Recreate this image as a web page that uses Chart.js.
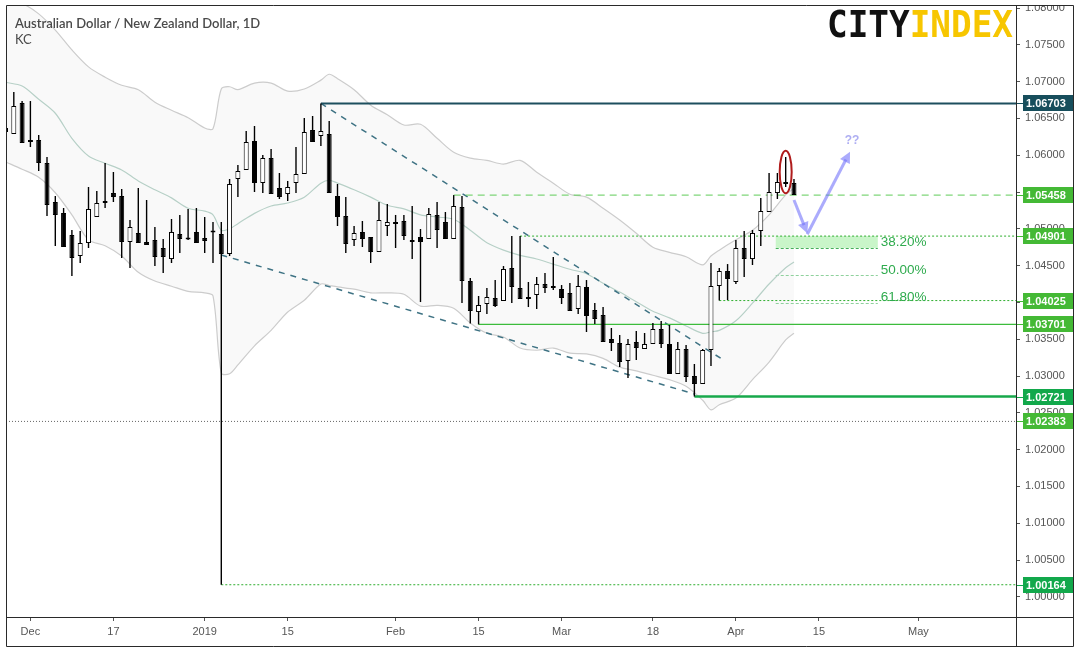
<!DOCTYPE html>
<html>
<head>
<meta charset="utf-8">
<script src="https://cdn.jsdelivr.net/npm/chart.js@4.4.1/dist/chart.umd.min.js"></script>
<style>
  html, body { margin: 0; padding: 0; background: #fff; }
</style>
</head>
<body>
<canvas id="chart" width="1080" height="652"></canvas>
<script>
// AUD/NZD daily, one entry per trading day (index 0 = 28 Nov 2018)
const opens = [
  1.06369, 1.06288, 1.06709, 1.06200, 1.06207, 1.05894, 1.05364, 1.05215, 1.04916, 1.04630,
  1.04807, 1.05160, 1.05351, 1.05486, 1.05446, 1.04821, 1.04943, 1.04821, 1.04848, 1.04739,
  1.04589, 1.04929, 1.04875, 1.04957, 1.04875, 1.04963, 1.04929, 1.04658, 1.05677, 1.05799,
  1.06193, 1.05622, 1.05962, 1.05554, 1.05473, 1.05622, 1.05745, 1.06342, 1.06261, 1.06288,
  1.05446, 1.05174, 1.04848, 1.04957, 1.04889, 1.04685, 1.05038, 1.05092, 1.05106, 1.04821,
  1.04889, 1.04861, 1.05188, 1.05092, 1.04861, 1.05296, 1.04291, 1.03869, 1.03978, 1.04060,
  1.04019, 1.04467, 1.04196, 1.04046, 1.04101, 1.04250, 1.04196, 1.04182, 1.04128, 1.03910,
  1.04209, 1.03897, 1.03829, 1.03503, 1.03449, 1.03204, 1.03462, 1.03367, 1.03435, 1.03638,
  1.03435, 1.03027, 1.03367, 1.03000, 1.02891, 1.03353, 1.04223, 1.04426, 1.04277, 1.04739,
  1.04589, 1.04970, 1.05228, 1.05486, 1.05636, 1.05622
];
const highs = [
  1.06478, 1.06859, 1.06736, 1.06736, 1.06275, 1.05976, 1.05446, 1.05283, 1.04984, 1.04970,
  1.05568, 1.05514, 1.05894, 1.05772, 1.05541, 1.05120, 1.05554, 1.05391, 1.05024, 1.04861,
  1.05133, 1.05188, 1.05269, 1.05283, 1.05160, 1.05092, 1.05092, 1.05677, 1.05867, 1.06329,
  1.06397, 1.06003, 1.06084, 1.05758, 1.05650, 1.06111, 1.06505, 1.06533, 1.06703, 1.06465,
  1.05609, 1.05432, 1.05038, 1.05106, 1.04889, 1.05364, 1.05337, 1.05188, 1.05188, 1.05310,
  1.04997, 1.05283, 1.05364, 1.05228, 1.05458, 1.05445, 1.04331, 1.04087, 1.04196, 1.04304,
  1.04494, 1.04902, 1.04901, 1.04277, 1.04345, 1.04399, 1.04617, 1.04236, 1.04263, 1.04372,
  1.04304, 1.03992, 1.03937, 1.03652, 1.03557, 1.03503, 1.03611, 1.03584, 1.03720, 1.03747,
  1.03693, 1.03462, 1.03421, 1.03163, 1.03367, 1.04535, 1.04467, 1.04521, 1.04848, 1.04970,
  1.04984, 1.05418, 1.05758, 1.05758, 1.05976, 1.05677
];
const lows = [
  1.06207, 1.06288, 1.06166, 1.06111, 1.05785, 1.05174, 1.04766, 1.04753, 1.04359, 1.04535,
  1.04739, 1.05160, 1.05283, 1.05364, 1.04603, 1.04467, 1.04807, 1.04780, 1.04494, 1.04399,
  1.04535, 1.04671, 1.04848, 1.04807, 1.04671, 1.04535, 1.00164, 1.04630, 1.05432, 1.05799,
  1.05500, 1.05486, 1.05473, 1.05405, 1.05378, 1.05486, 1.05745, 1.06179, 1.06125, 1.05486,
  1.05038, 1.04671, 1.04766, 1.04753, 1.04535, 1.04685, 1.04902, 1.04739, 1.04848, 1.04589,
  1.04005, 1.04861, 1.04739, 1.04861, 1.04861, 1.03992, 1.03715, 1.03701, 1.03842, 1.03937,
  1.04019, 1.03992, 1.04046, 1.03937, 1.03910, 1.04128, 1.04168, 1.03978, 1.03883, 1.03842,
  1.03598, 1.03706, 1.03462, 1.03340, 1.03122, 1.02973, 1.03217, 1.03367, 1.03435, 1.03380,
  1.03027, 1.03027, 1.02918, 1.02721, 1.02891, 1.03136, 1.04025, 1.04033, 1.04250, 1.04345,
  1.04508, 1.04766, 1.05228, 1.05405, 1.05568, 1.05459
];
const closes = [
  1.06315, 1.06668, 1.06166, 1.06179, 1.05894, 1.05323, 1.05188, 1.04753, 1.04603, 1.04807,
  1.05269, 1.05351, 1.05378, 1.05432, 1.04821, 1.05024, 1.04807, 1.04780, 1.04617, 1.04617,
  1.04957, 1.04861, 1.04855, 1.04807, 1.04834, 1.04950, 1.04658, 1.05609, 1.05785, 1.06179,
  1.05622, 1.05962, 1.05473, 1.05432, 1.05568, 1.05745, 1.06315, 1.06179, 1.06329, 1.05486,
  1.05160, 1.04793, 1.04943, 1.04861, 1.04685, 1.05120, 1.05092, 1.05065, 1.04902, 1.04848,
  1.04821, 1.05201, 1.04984, 1.04861, 1.05310, 1.04291, 1.03883, 1.03965, 1.04073, 1.03951,
  1.04454, 1.04209, 1.04046, 1.04073, 1.04250, 1.04196, 1.04223, 1.04060, 1.03883, 1.04223,
  1.03815, 1.03774, 1.03462, 1.03449, 1.03190, 1.03435, 1.03380, 1.03435, 1.03638, 1.03435,
  1.03027, 1.03367, 1.02986, 1.02891, 1.03353, 1.04223, 1.04426, 1.04318, 1.04739, 1.04589,
  1.04943, 1.05242, 1.05500, 1.05636, 1.05609, 1.05459
];

// Keltner channel, read at these bar indices
const kcIdx = [0, 2, 4, 6, 8, 10, 12, 14, 16, 18, 20, 22, 24, 25, 26, 27, 28, 30, 32, 34, 36, 38, 39, 40,
  42, 44, 46, 48, 50, 52, 54, 56, 58, 60, 62, 64, 66, 68, 70, 72, 74, 76, 78, 80, 82, 84, 85, 86, 88, 90, 92, 94, 95];
const kcUpper = [1.0810, 1.0806, 1.0792, 1.0770, 1.0743, 1.0720, 1.0706, 1.0695, 1.0689, 1.0672, 1.0661, 1.0651,
  1.0637, 1.0636, 1.0690, 1.0693, 1.0689, 1.0698, 1.0698, 1.0687, 1.0690, 1.0702, 1.0710, 1.0704,
  1.0689, 1.0668, 1.0655, 1.0641, 1.0642, 1.0623, 1.0604, 1.0596, 1.0593, 1.0588, 1.0593, 1.0577, 1.0562,
  1.0547, 1.0543, 1.0528, 1.0512, 1.0494, 1.0475, 1.0468, 1.0462, 1.0451, 1.0463, 1.0471, 1.0485, 1.0498,
  1.0519, 1.0546, 1.0555];
const kcMid = [1.0699, 1.0694, 1.0676, 1.0657, 1.0623, 1.0599, 1.0589, 1.0580, 1.0565, 1.0553, 1.0542, 1.0528,
  1.0524, 1.0519, 1.0498, 1.0500, 1.0507, 1.0521, 1.0531, 1.0535, 1.0543, 1.0562, 1.0566, 1.0562,
  1.0553, 1.0543, 1.0532, 1.0527, 1.0519, 1.0516, 1.0513, 1.0498, 1.0481, 1.0471, 1.0464, 1.0459, 1.0452,
  1.0445, 1.0439, 1.0426, 1.0414, 1.0401, 1.0388, 1.0379, 1.0368, 1.0358, 1.0360, 1.0362, 1.0375, 1.0399,
  1.0425, 1.0447, 1.0455];
const kcLower = [1.0591, 1.0581, 1.0570, 1.0549, 1.0519, 1.0485, 1.0477, 1.0463, 1.0441, 1.0429, 1.0422, 1.0415,
  1.0413, 1.0409, 1.0304, 1.0303, 1.0315, 1.0341, 1.0362, 1.0387, 1.0403, 1.0425, 1.0423, 1.0421,
  1.0418, 1.0413, 1.0413, 1.0411, 1.0395, 1.0396, 1.0392, 1.0372, 1.0358, 1.0353, 1.0338, 1.0335, 1.0338,
  1.0331, 1.0330, 1.0324, 1.0312, 1.0307, 1.0301, 1.0295, 1.0286, 1.0267, 1.0254, 1.0261, 1.0270, 1.0295,
  1.0319, 1.0349, 1.0358];

// horizontal levels: value and the bar where each one starts
const levelValues = [1.06703, 1.05458, 1.04901, 1.04025, 1.03701, 1.02721, 1.02383, 1.00164];
const levelStarts = [38, 54, 62, 86, 57, 83, 0, 26];

// trend lines
const trendUpperX = [38, 86.5];
const trendUpperY = [1.06703, 1.03217];
const trendLowerX = [26, 83];
const trendLowerY = [1.04644, 1.02755];

// fibonacci retracement
const fibX = [92.8, 105.1];
const fibTop = 1.04901;
const fibLevels = [1.04740, 1.04372, 1.03996];
const fibLabels = ['38.20%', '50.00%', '61.80%'];

// projected path and marked candle
const pathX = [95.0, 96.6, 101.75];
const pathY = [1.05391, 1.04939, 1.06048];
const markX = 94;
const markY = [1.06061, 1.05482];
const questionX = 102;
const questionY = 1.06193;

// axes
const xTickPos = [3, 13, 24, 34, 47, 57, 67, 78, 88, 98, 110];
const xTickLabels = ['Dec', '17', '2019', '15', 'Feb', '15', 'Mar', '18', 'Apr', '15', 'May'];
const yTicks = [1.000, 1.005, 1.010, 1.015, 1.020, 1.025, 1.030, 1.035, 1.040, 1.045, 1.050, 1.055,
  1.060, 1.065, 1.070, 1.075, 1.080];

const X_MIN = 0.06;
const X_MAX = 121.75;
const FONT = "'Liberation Sans', Arial, sans-serif";

const levelStyles = [
  { color: '#1d4f5e', width: 2, dash: [] },
  { color: '#5ecb58', width: 1, dash: [7, 5] },
  { color: '#2fae2f', width: 1, dash: [2, 2] },
  { color: '#2fae2f', width: 1, dash: [2, 2] },
  { color: '#3cbc3c', width: 1.3, dash: [] },
  { color: '#17a84b', width: 2.5, dash: [] },
  { color: '#666666', width: 1, dash: [1, 2] },
  { color: '#2fae2f', width: 1, dash: [2, 2] }
];
const tagColors = ['#174e5c', '#44b935', '#44b935', '#44b935', '#44b935', '#12a84b', '#44b935', '#12a84b'];

const levelSets = levelValues.map((v, k) => ({
  type: 'line',
  data: [{ x: Math.max(levelStarts[k], X_MIN), y: v }, { x: X_MAX, y: v }],
  borderColor: levelStyles[k].color,
  borderWidth: levelStyles[k].width,
  borderDash: levelStyles[k].dash,
  pointRadius: 0,
  order: 3
}));

function trendSet(xs, ys) {
  return {
    type: 'line',
    data: xs.map((x, k) => ({ x: x, y: ys[k] })),
    borderColor: '#3f7384',
    borderWidth: 1.5,
    borderDash: [6, 6],
    pointRadius: 0,
    order: 4
  };
}

function kcSet(vals, color, fill, order) {
  return {
    type: 'line',
    data: kcIdx.map((x, k) => ({ x: x, y: vals[k] })),
    borderColor: color,
    borderWidth: 1.2,
    pointRadius: 0,
    tension: 0.3,
    fill: fill,
    backgroundColor: 'rgba(0,0,0,0.025)',
    order: order
  };
}

function arrow(ctx, x1, y1, x2, y2) {
  const a = Math.atan2(y2 - y1, x2 - x1);
  const len = 11, half = 5.5;
  ctx.beginPath();
  ctx.moveTo(x1, y1);
  ctx.lineTo(x2 - Math.cos(a) * len * 0.8, y2 - Math.sin(a) * len * 0.8);
  ctx.stroke();
  ctx.beginPath();
  ctx.moveTo(x2, y2);
  ctx.lineTo(x2 - Math.cos(a) * len + Math.sin(a) * half, y2 - Math.sin(a) * len - Math.cos(a) * half);
  ctx.lineTo(x2 - Math.cos(a) * len - Math.sin(a) * half, y2 - Math.sin(a) * len + Math.cos(a) * half);
  ctx.closePath();
  ctx.fill();
}

const decor = {
  id: 'decor',
  beforeDatasetsDraw(chart) {
    const ctx = chart.ctx, xs = chart.scales.x, ys = chart.scales.y;
    const x1 = xs.getPixelForValue(fibX[0]), x2 = xs.getPixelForValue(fibX[1]);
    ctx.save();
    ctx.fillStyle = '#c9f5c9';
    const yt = ys.getPixelForValue(fibTop), yb = ys.getPixelForValue(fibLevels[0]);
    ctx.fillRect(x1, yt, x2 - x1, yb - yt);
    fibLevels.forEach((v, k) => {
      const y = Math.round(ys.getPixelForValue(v)) + 0.5;
      ctx.strokeStyle = k === 0 ? '#45b05a' : '#8fd19d';
      ctx.setLineDash([3, 2]);
      ctx.lineWidth = 1;
      ctx.beginPath();
      ctx.moveTo(x1, y);
      ctx.lineTo(x2, y);
      ctx.stroke();
    });
    ctx.restore();
  },
  afterDatasetsDraw(chart) {
    const ctx = chart.ctx, xs = chart.scales.x, ys = chart.scales.y;
    ctx.save();
    // fib labels
    ctx.font = '13.5px ' + FONT;
    ctx.fillStyle = '#2fab4e';
    ctx.textBaseline = 'alphabetic';
    fibLabels.forEach((t, k) => {
      ctx.fillText(t, xs.getPixelForValue(fibX[1]) + 3, ys.getPixelForValue(fibLevels[k]) - 1.5);
    });
    // projected path
    ctx.strokeStyle = 'rgba(115,115,250,0.6)';
    ctx.fillStyle = 'rgba(115,115,250,0.6)';
    ctx.lineWidth = 3;
    const px = pathX.map(v => xs.getPixelForValue(v));
    const py = pathY.map(v => ys.getPixelForValue(v));
    arrow(ctx, px[0], py[0], px[1], py[1]);
    arrow(ctx, px[1], py[1] + 1, px[2], py[2]);
    ctx.font = 'bold 12px ' + FONT;
    ctx.fillStyle = '#aeaef2';
    ctx.textAlign = 'center';
    ctx.textBaseline = 'middle';
    ctx.fillText('??', xs.getPixelForValue(questionX), ys.getPixelForValue(questionY));
    // marked candle
    const ey1 = ys.getPixelForValue(markY[0]), ey2 = ys.getPixelForValue(markY[1]);
    ctx.strokeStyle = '#b01c1c';
    ctx.lineWidth = 2;
    ctx.beginPath();
    ctx.ellipse(xs.getPixelForValue(markX), (ey1 + ey2) / 2, 6, (ey2 - ey1) / 2, 0, 0, Math.PI * 2);
    ctx.stroke();
    ctx.restore();
  },
  afterDraw(chart) {
    const ctx = chart.ctx, ys = chart.scales.y, area = chart.chartArea;
    ctx.save();
    ctx.fillStyle = '#fff';
    ctx.fillRect(0, 0, 1080, 5);
    // frame
    ctx.strokeStyle = '#2a2a2a';
    ctx.lineWidth = 1;
    ctx.beginPath();
    ctx.rect(6.5, 5.5, 1067, 641);
    ctx.moveTo(6, area.bottom + 0.5);
    ctx.lineTo(1074, area.bottom + 0.5);
    ctx.moveTo(area.right + 0.5, 5);
    ctx.lineTo(area.right + 0.5, 647);
    ctx.stroke();
    // price tags
    ctx.font = 'bold 11px ' + FONT;
    ctx.textBaseline = 'middle';
    levelValues.forEach((v, k) => {
      const y = Math.round(ys.getPixelForValue(v));
      ctx.fillStyle = tagColors[k];
      ctx.fillRect(area.right + 1, y, 6, 1);
      ctx.fillRect(area.right + 7, y - 8, 50, 16);
      ctx.fillStyle = '#fff';
      ctx.fillText(v.toFixed(5), area.right + 10, y + 0.5);
    });
    // title
    ctx.fillStyle = '#4a4a4a';
    ctx.textBaseline = 'alphabetic';
    ctx.font = '600 13px Lato, ' + FONT;
    const title = 'Australian Dollar / New Zealand Dollar, 1D';
    const tw = ctx.measureText(title).width;
    ctx.save();
    ctx.translate(15, 28);
    ctx.scale(Math.min(1, 247 / tw), 1);
    ctx.fillText(title, 0, 0);
    ctx.restore();
    ctx.font = '13px Lato, ' + FONT;
    ctx.fillText('KC', 15, 44);
    // logo
    ctx.save();
    ctx.font = "bold 38px 'DejaVu Sans Mono', monospace";
    const wCity = ctx.measureText('CITY').width;
    const wAll = ctx.measureText('CITYINDEX').width;
    ctx.translate(827, 37);
    ctx.scale(186 / wAll, 1);
    ctx.fillStyle = '#111';
    ctx.fillText('CITY', 0, 0);
    ctx.fillStyle = '#f7c600';
    ctx.fillText('INDEX', wCity, 0);
    ctx.restore();
    ctx.restore();
  }
};

new Chart(document.getElementById('chart'), {
  type: 'bar',
  data: {
    datasets: [
      {
        data: opens.map((o, i) => ({ x: i, y: [o, closes[i]] })),
        backgroundColor: c => (closes[c.dataIndex] >= opens[c.dataIndex] ? '#ffffff' : '#000000'),
        borderColor: '#000',
        borderWidth: 1,
        borderSkipped: false,
        barThickness: 5,
        minBarLength: 2,
        inflateAmount: 0,
        grouped: false,
        order: 1
      },
      {
        data: lows.map((l, i) => ({ x: i, y: [l, highs[i]] })),
        backgroundColor: '#000',
        borderWidth: 0,
        barThickness: 1.4,
        inflateAmount: 0,
        grouped: false,
        order: 2
      },
      ...levelSets,
      trendSet(trendUpperX, trendUpperY),
      trendSet(trendLowerX, trendLowerY),
      kcSet(kcMid, '#b7d0c7', false, 5),
      kcSet(kcUpper, '#cccccc', '+1', 6),
      kcSet(kcLower, '#cccccc', false, 7)
    ]
  },
  options: {
    responsive: false,
    animation: false,
    layout: { padding: { left: 6, right: 6, top: 5, bottom: 6 } },
    plugins: {
      legend: { display: false },
      tooltip: { enabled: false },
      filler: { drawTime: 'beforeDatasetsDraw' }
    },
    scales: {
      x: {
        type: 'linear',
        min: X_MIN,
        max: X_MAX,
        offset: false,
        border: { display: false },
        grid: { drawOnChartArea: false, drawTicks: true, tickLength: 4, color: '#555', offset: false },
        ticks: {
          autoSkip: false,
          maxRotation: 0,
          color: '#555',
          padding: 4,
          font: { family: FONT, size: 11 },
          callback: (v, i) => xTickLabels[i]
        },
        afterBuildTicks: s => { s.ticks = xTickPos.map(v => ({ value: v })); },
        afterFit: s => { s.height = 29; s.paddingLeft = 0; s.paddingRight = 0; }
      },
      y: {
        type: 'linear',
        position: 'right',
        min: 0.997256,
        max: 1.080408,
        border: { display: false },
        grid: { drawOnChartArea: false, drawTicks: true, tickLength: 4, color: '#555' },
        ticks: {
          color: '#555',
          padding: 5,
          font: { family: FONT, size: 11 },
          callback: v => v.toFixed(5)
        },
        afterBuildTicks: s => { s.ticks = yTicks.map(v => ({ value: v })); },
        afterFit: s => { s.width = 58; s.paddingTop = 0; s.paddingBottom = 0; }
      }
    }
  },
  plugins: [decor]
});
</script>
</body>
</html>
